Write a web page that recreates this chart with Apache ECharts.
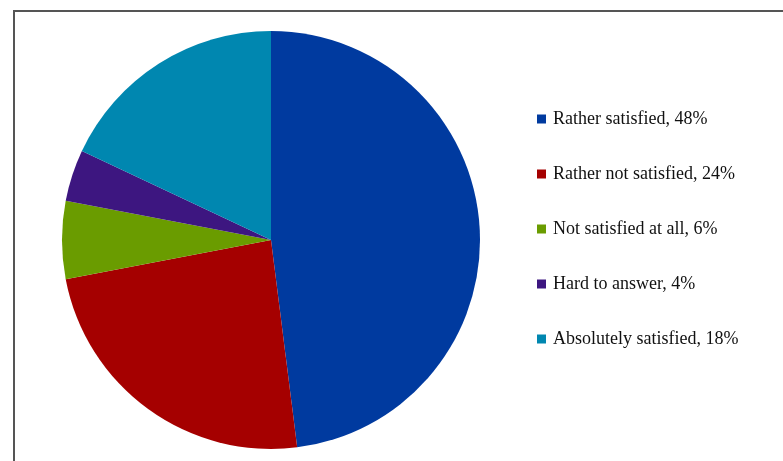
<!DOCTYPE html>
<html>
<head>
<meta charset="utf-8">
<script src="https://cdn.jsdelivr.net/npm/echarts@6/dist/echarts.min.js"></script>
<style>
  html, body { margin: 0; padding: 0; background: #fff; overflow: hidden; }
  #frame {
    position: absolute; left: 13px; top: 10px; width: 800px; height: 480px;
    border-left: 2px solid #555; border-top: 2px solid #555;
  }
  #chart { position: absolute; left: 0; top: 0; width: 783px; height: 461px; }
</style>
</head>
<body>
<div id="frame"></div>
<div id="chart"></div>
<script>
const categories = [
  "Rather satisfied",
  "Rather not satisfied",
  "Not satisfied at all",
  "Hard to answer",
  "Absolutely satisfied"
];
const shares = [48, 24, 6, 4, 18];
const colors = ["#003a9f", "#a50000", "#6a9c00", "#3d1680", "#0087b0"];

const chart = echarts.init(document.getElementById("chart"));

chart.setOption({
  animation: false,
  color: colors,
  legend: {
    orient: "vertical",
    left: 537,
    top: 110,
    padding: 0,
    icon: "rect",
    itemWidth: 9,
    itemHeight: 9,
    itemGap: 37,
    data: categories,
    formatter: (name) => `${name}, ${shares[categories.indexOf(name)]}%`,
    textStyle: {
      fontFamily: "Liberation Serif",
      fontSize: 18,
      lineHeight: 18,
      padding: [0, 0, 0, 2],
      color: "#111"
    }
  },
  series: [
    {
      type: "pie",
      center: [271, 240],
      radius: 209,
      startAngle: 90,
      clockwise: true,
      label: { show: false },
      labelLine: { show: false },
      emphasis: { disabled: true },
      itemStyle: { borderWidth: 0 },
      data: categories.map((c, i) => ({ name: c, value: shares[i] }))
    }
  ]
});
</script>
</body>
</html>
